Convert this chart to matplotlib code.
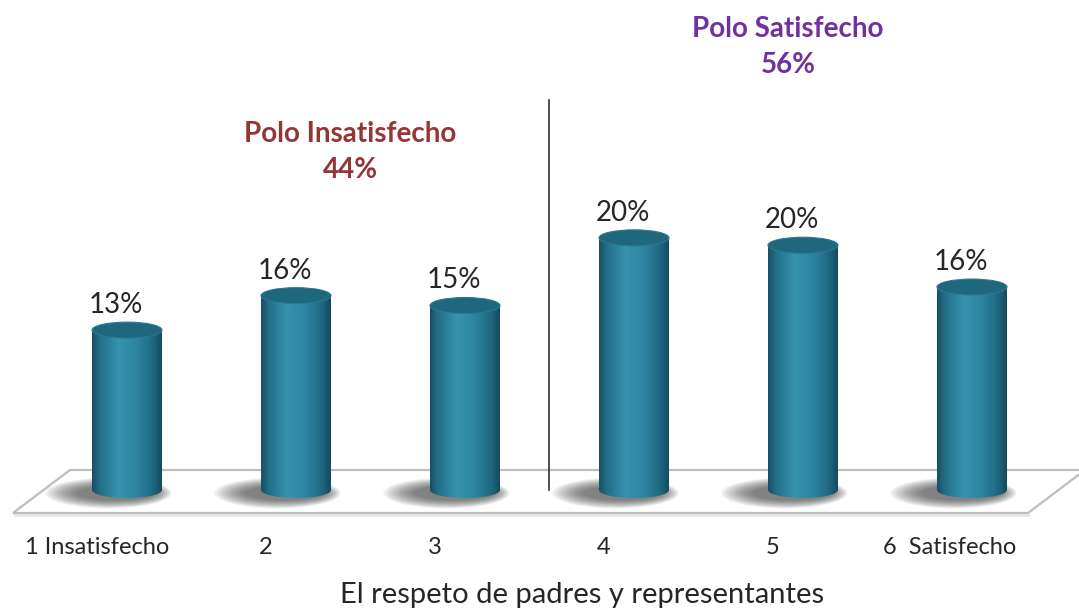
import numpy as np
import matplotlib
matplotlib.use("Agg")
import matplotlib.pyplot as plt
from matplotlib.patches import Ellipse, Rectangle, Polygon
from matplotlib.colors import LinearSegmentedColormap

# ---------------- data ----------------
categories = ["1 Insatisfecho", "2", "3", "4", "5", "6  Satisfecho"]
values = [13.0, 15.8, 15.0, 20.5, 19.9, 16.5]
value_labels = ["13%", "16%", "15%", "20%", "20%", "16%"]
group_titles = ["Polo Insatisfecho\n44%", "Polo Satisfecho\n56%"]
group_colors = ["#943634", "#7030A0"]
xlabel = "El respeto de padres y representantes"

plt.rcParams["font.family"] = ["Lato", "DejaVu Sans"]

W, H = 1079, 610
fig = plt.figure(figsize=(W / 100, H / 100), dpi=100)
ax = fig.add_axes([0, 0, 1, 1])

px_x = 169.0   # pixels per category
px_y = 12.3    # pixels per percent
x0 = -127 / px_x
y0 = -120 / px_y
ax.set_xlim(x0, x0 + W / px_x)
ax.set_ylim(y0, y0 + H / px_y)
ax.axis("off")

n = len(values)
xs = np.arange(n)
bw = 70 / px_x          # cylinder width
eh = 16 / px_y          # ellipse height

# ---------------- floor ----------------
yf, yb = -23 / px_y, 20 / px_y
dx = 57 / px_x
xl, xr = -114 / px_x, 901 / px_x
floor = Polygon([(xl, yf), (xr, yf), (xr + dx, yb), (xl + dx, yb)], closed=True,
                facecolor="white", edgecolor="#BDBDBD", lw=1.6, zorder=1)
ax.add_patch(floor)
ax.plot([xl + 0.01, xr], [yf - 0.18, yf - 0.18], color="#E6E6E6", lw=2.0, zorder=0.9)

# divider line
ax.plot([2.5, 2.5], [0.0, 390 / px_y], color="#303030", lw=1.2, zorder=2)

# ---------------- cylinders ----------------
cmap = LinearSegmentedColormap.from_list(
    "cyl",
    [(0.0, "#184f62"), (0.12, "#24708a"), (0.38, "#3693ae"),
     (0.65, "#2c84a0"), (0.88, "#1f6680"), (1.0, "#164a5c")])
grad = np.linspace(0, 1, 256).reshape(1, -1)

for x, v in zip(xs, values):
    # shadow
    for k in range(12):
        sh = Ellipse((x - 0.11 + 0.004 * k, -0.25), bw * (1.8 - 0.06 * k), eh * (1.9 - 0.09 * k),
                     facecolor="#303030", edgecolor="none", alpha=0.07, zorder=2)
        ax.add_patch(sh)
    # body
    body = Rectangle((x - bw / 2, 0), bw, v, transform=ax.transData)
    im = ax.imshow(grad, cmap=cmap, extent=[x - bw / 2, x + bw / 2, -eh, v],
                   aspect="auto", interpolation="bilinear", zorder=3)
    im.set_clip_path(body)
    bot = Ellipse((x, 0), bw, eh, transform=ax.transData)
    im2 = ax.imshow(grad, cmap=cmap, extent=[x - bw / 2, x + bw / 2, -eh, v],
                    aspect="auto", interpolation="bilinear", zorder=3)
    im2.set_clip_path(bot)
    # top
    top = Ellipse((x, v), bw, eh, facecolor="#1f677d", edgecolor="#2a7891",
                  lw=0.8, zorder=4)
    ax.add_patch(top)

# value labels
for x, v, lab in zip(xs, values, value_labels):
    ax.text(x - 11 / px_x, v + eh / 2 + 4 / px_y, lab, ha="center", va="bottom",
            fontsize=20, color="#262626", zorder=5)

# category labels
for x, lab in zip(xs, categories):
    off = 30 / px_x if x < n - 1 else 22 / px_x
    ax.text(x - off, -58 / px_y, lab, ha="center", va="center",
            fontsize=17, color="#262626")

# x axis title
ax.text(455 / px_x, -105 / px_y, xlabel, ha="center", va="center",
        fontsize=21, color="#262626")

# group titles
ax.text((350 - 127) / px_x, (490 - 152) / px_y, group_titles[0], ha="center",
        va="center", fontsize=20, fontweight="bold", color=group_colors[0],
        linespacing=1.45)
ax.text((788 - 127) / px_x, (490 - 47) / px_y, group_titles[1], ha="center",
        va="center", fontsize=20, fontweight="bold", color=group_colors[1],
        linespacing=1.45)

fig.savefig("out.png", dpi=100)
